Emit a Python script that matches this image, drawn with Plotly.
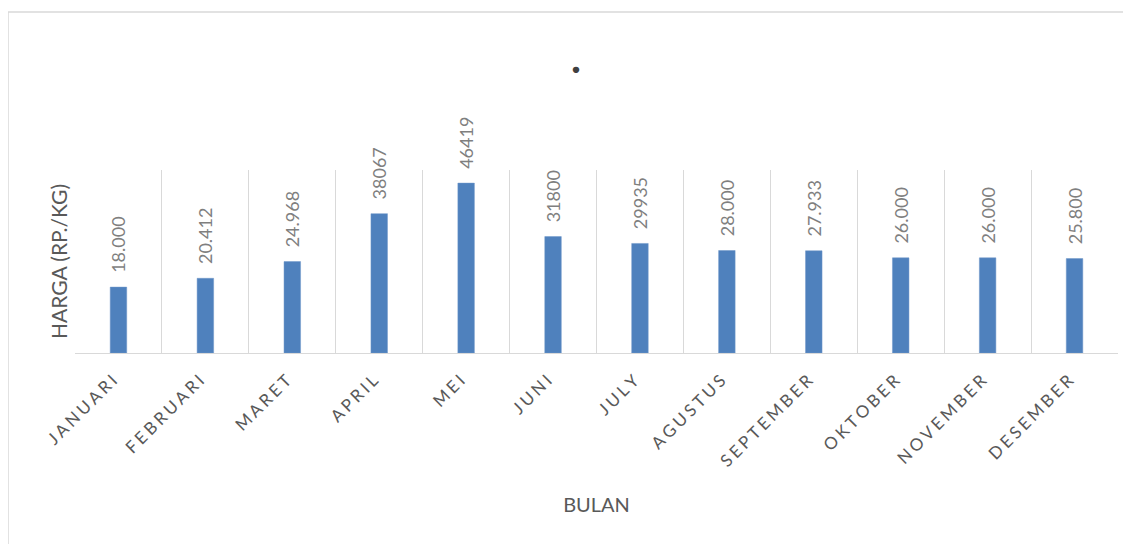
import plotly.graph_objects as go

months = ["JANUARI", "FEBRUARI", "MARET", "APRIL", "MEI", "JUNI", "JULY",
          "AGUSTUS", "SEPTEMBER", "OKTOBER", "NOVEMBER", "DESEMBER"]
prices = [18000, 20412, 24968, 38067, 46419, 31800, 29935, 28000, 27933, 26000, 26000, 25800]
price_labels = ["18.000", "20.412", "24.968", "38067", "46419", "31800", "29935",
                "28.000", "27.933", "26.000", "26.000", "25.800"]

SP = "\u2009\u200a"
tick_text = [SP.join(m) + "\u2002" for m in months]
lab_text = ["\u2002\u2009" + t for t in price_labels]

# page has an 8px body margin; figure coords = page coords - 8
W, H = 1123, 536
PL, PR, PT, PB = 75 - 8, 1118 - 8, 170 - 8, 353 - 8

fig = go.Figure()
fig.add_trace(go.Bar(
    x=months, y=prices,
    marker=dict(color="#4F81BD", line=dict(color="#6f97c8", width=0.5)),
    width=0.19,
    text=lab_text, textposition="outside", textangle=-90,
    constraintext="none",
    textfont=dict(family="Lato", size=18, color="#7f7f7f"),
    cliponaxis=False,
    hoverinfo="x+y",
))

pw = PR - PL
ph = PB - PT
fig.update_layout(
    width=W, height=H,
    margin=dict(l=PL, r=W - PR, t=PT, b=H - PB, pad=0),
    paper_bgcolor="white", plot_bgcolor="white",
    font=dict(family="Lato", color="#595959"),
    showlegend=False,
    title=dict(text="<b>.</b>", x=(576 - 8) / W, xanchor="center", y=1 - (58 - 8) / H, yanchor="middle",
               font=dict(family="Lato", size=42, color="#404040")),
    xaxis=dict(
        tickmode="array", tickvals=months, ticktext=tick_text,
        tickangle=-45, tickfont=dict(family="Lato", size=17, color="#595959"),
        tickson="boundaries", ticks="", ticklabelstandoff=4,
        showgrid=True, gridcolor="#d9d9d9", gridwidth=1,
        showline=True, linecolor="#d9d9d9", linewidth=1,
        title=dict(text="BULAN", font=dict(family="Lato", size=20, color="#595959"), standoff=28),
        fixedrange=True,
    ),
    yaxis=dict(
        range=[0, 50000], showticklabels=False, showgrid=False, zeroline=False,
        showline=False, ticks="",
        title=dict(text="HARGA (RP./KG)", font=dict(family="Lato", size=21, color="#595959"), standoff=0),
    ),
    shapes=[
        dict(type="rect", xref="paper", yref="paper",
             x0=(0 - PL) / pw, x1=(W + 10 - PL) / pw,
             y0=(PB - (H + 10)) / ph, y1=(PB - 4) / ph,
             line=dict(color="#d9d9d9", width=1.5), fillcolor="rgba(0,0,0,0)", layer="below"),
    ],
)

fig.write_html("out.html")
